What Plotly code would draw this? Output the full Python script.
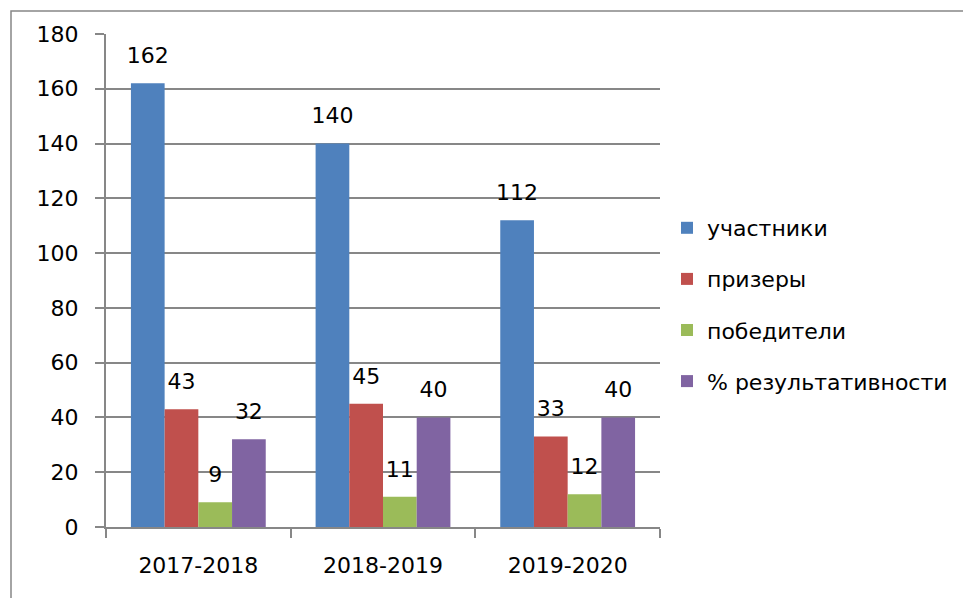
import plotly.graph_objects as go

categories = ["2017-2018", "2018-2019", "2019-2020"]
series_names = ["участники", "призеры", "победители", "% результативности"]
participants = [162, 140, 112]
prizewinners = [43, 45, 33]
winners = [9, 11, 12]
effectiveness = [32, 40, 40]
y_ticks = [0, 20, 40, 60, 80, 100, 120, 140, 160, 180]

colors = ["#4F81BD", "#C0504D", "#9BBB59", "#8064A2"]
series_values = [participants, prizewinners, winners, effectiveness]

FONT = "DejaVu Sans"
FS = 22
# page body has an 8px margin, so figure is 8px smaller and coords shifted
OFF = 8
W, H = 971 - OFF, 598 - OFF
L, R, T, B = 106 - OFF, 660 - OFF, 34 - OFF, 527 - OFF
GAP = 0.27

fig = go.Figure()
for i, (name, vals) in enumerate(zip(series_names, series_values)):
    fig.add_trace(go.Bar(
        x=categories, y=vals, name=name,
        marker=dict(color=colors[i], line=dict(width=0)),
        legendgroup=f"g{i}", offsetgroup=str(i),
    ))
for i, (name, vals) in enumerate(zip(series_names, series_values)):
    fig.add_trace(go.Scatter(
        x=categories, y=vals, mode="markers+text",
        text=[str(v) for v in vals], textposition="top center",
        textfont=dict(family=FONT, size=FS, color="black"),
        marker=dict(size=22, opacity=0, color=colors[i]),
        showlegend=False, hoverinfo="skip", cliponaxis=False,
        offsetgroup=str(i),
    ))

fig.update_layout(
    width=W, height=H,
    margin=dict(l=L, r=W - R, t=T, b=H - B, pad=0),
    paper_bgcolor="white", plot_bgcolor="white",
    barmode="group", bargap=GAP, bargroupgap=0,
    scattermode="group", scattergap=GAP,
    font=dict(family=FONT, size=FS, color="black"),
    showlegend=True,
    legend=dict(
        x=(667 - 106) / (660 - 106), xanchor="left",
        y=(527 - 207) / (527 - 34), yanchor="top",
        font=dict(family=FONT, size=FS, color="black"),
        traceorder="grouped", tracegroupgap=19.5,
        itemwidth=30, bgcolor="rgba(0,0,0,0)",
    ),
    xaxis=dict(
        type="category", range=[-0.5, 2.5],
        showline=True, linecolor="#878787", linewidth=2,
        ticks="outside", ticklen=9, tickcolor="#878787", tickwidth=2,
        tickson="boundaries", showgrid=False,
        tickfont=dict(family=FONT, size=FS, color="black"),
        ticklabelstandoff=18,
    ),
    yaxis=dict(
        range=[0, 180], tickvals=y_ticks,
        showline=True, linecolor="#878787", linewidth=2,
        ticks="outside", ticklen=9, tickcolor="#878787", tickwidth=2,
        showgrid=True, gridcolor="#878787", gridwidth=2,
        zeroline=False,
        tickfont=dict(family=FONT, size=FS, color="black"),
        ticklabelstandoff=12,
    ),
    shapes=[dict(
        type="rect", xref="paper", yref="paper",
        x0=(3 - L) / (R - L), x1=(W + 20 - L) / (R - L),
        y0=(B - (H + 20)) / (B - T), y1=(B - 3) / (B - T),
        line=dict(color="#878787", width=1.5), fillcolor="rgba(0,0,0,0)",
        layer="below",
    )],
)

fig.write_html("out.html")
